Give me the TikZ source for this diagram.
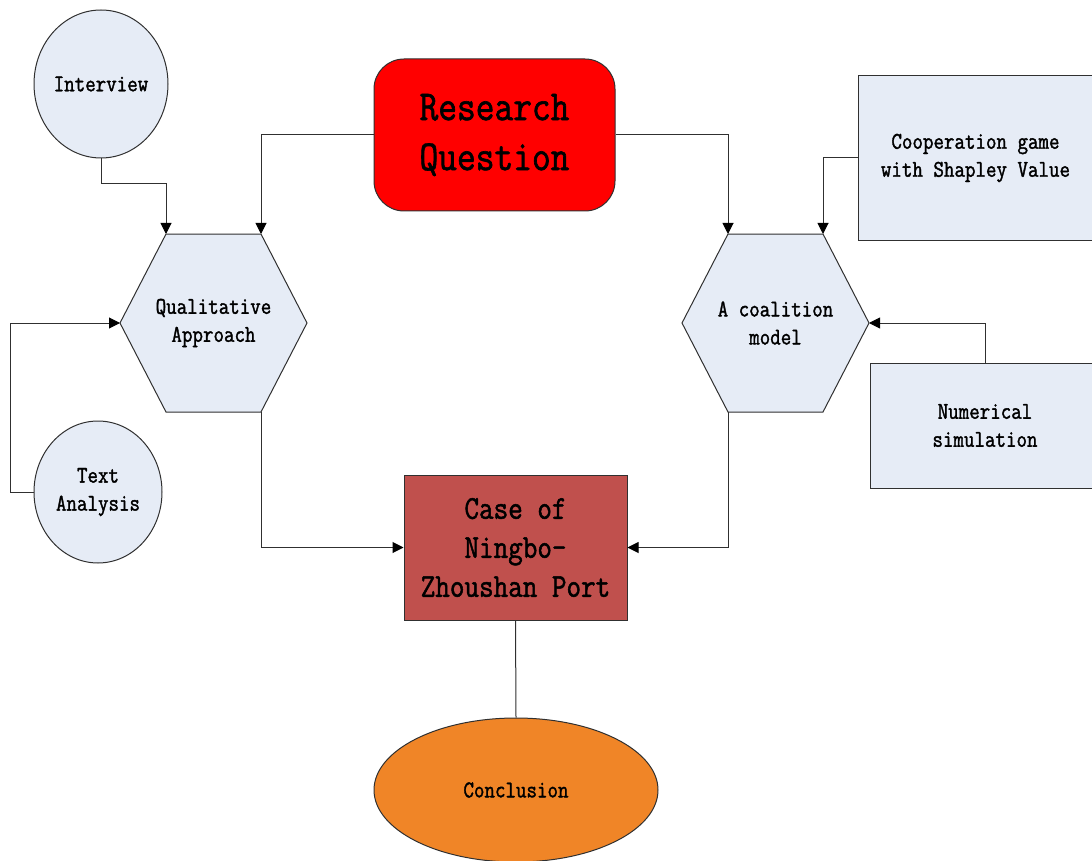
\documentclass[tikz,border=0pt]{standalone}
\usepackage{fontspec}
\setmainfont[FakeStretch=0.85,FakeBold=1.5]{Latin Modern Mono}
\usetikzlibrary{arrows.meta,shapes.geometric,backgrounds}

\definecolor{paleblue}{HTML}{E6ECF6}
\definecolor{brick}{HTML}{C0504D}
\definecolor{tangerine}{HTML}{F08527}
\definecolor{edge}{HTML}{303030}

\tikzset{
  outline/.style={draw=edge, line width=1pt},
  smalltext/.style={font=\fontsize{24}{28}\selectfont, align=center, inner sep=0pt},
  roundshape/.style={ellipse, outline, fill=paleblue, smalltext},
  sidebox/.style={rectangle, outline, fill=paleblue, smalltext},
  hexcore/.style={rectangle, smalltext},
  hexfill/.style={outline, fill=paleblue},
  link/.style={draw=edge, line width=1pt},
  flow/.style={link, -{Triangle[length=11pt,width=11pt,color=black]}},
}

\begin{document}
\begin{tikzpicture}[x=1pt, y=-1pt]
\useasboundingbox (0,0) rectangle (1092,861);

% central question
\node[rectangle, rounded corners=30pt, outline, fill=red,
      minimum width=241pt, minimum height=152pt, align=center, inner sep=0pt,
      font=\fontsize{42.8}{50}\selectfont] (rq) at (494.5,135) {Research\\Question};

% the two approaches: hexagon corners placed around each text core
\node[hexcore] (qa) at (213.5,323) {Qualitative\\Approach};
\node[hexcore] (cm) at (775.5,323) {A coalition\\model};
\foreach \h in {qa,cm}{
  \coordinate (\h-nw) at ([xshift=-47.5pt,yshift=89pt]\h.center);
  \coordinate (\h-ne) at ([xshift=47.5pt,yshift=89pt]\h.center);
  \coordinate (\h-e)  at ([xshift=93.5pt]\h.center);
  \coordinate (\h-se) at ([xshift=47.5pt,yshift=-89pt]\h.center);
  \coordinate (\h-sw) at ([xshift=-47.5pt,yshift=-89pt]\h.center);
  \coordinate (\h-w)  at ([xshift=-93.5pt]\h.center);
}
\begin{scope}[on background layer]
  \foreach \h in {qa,cm}{
    \draw[hexfill] (\h-nw) -- (\h-ne) -- (\h-e) -- (\h-se) -- (\h-sw) -- (\h-w) -- cycle;
  }
\end{scope}

% inputs
\node[roundshape, minimum width=134pt, minimum height=148pt] (iv) at (101,84) {Interview};
\node[roundshape, minimum width=128pt, minimum height=142pt] (ta) at (98,492) {Text\\Analysis};
\node[sidebox, minimum width=235pt, minimum height=164pt] (coop) at (975.5,158) {Cooperation game\\with Shapley Value};
\node[sidebox, minimum width=230pt, minimum height=125pt] (num) at (985,425.5) {Numerical\\simulation};

% case study and conclusion
\node[rectangle, outline, fill=brick, minimum width=223pt, minimum height=145pt,
      align=center, inner sep=0pt, font=\fontsize{33.3}{39}\selectfont]
      (case) at (515.5,547.5) {Case of\\Ningbo-\\Zhoushan Port};
\node[ellipse, outline, fill=tangerine, minimum width=284pt, minimum height=144pt,
      smalltext] (concl) at (516,790) {Conclusion};

% connectors
\draw[flow] (iv.south) -- ++(0,25) -| (qa-nw);
\draw[flow] (rq.west) -| (qa-ne);
\draw[flow] (rq.east) -| (cm-nw);
\draw[flow] (coop.west) -| (cm-ne);
\draw[flow] (ta.west) -- ++(-23,0) |- (qa-w);
\draw[flow] (num.north) |- (cm-e);
\draw[flow] (qa-se) |- (case.west);
\draw[flow] (cm-sw) |- (case.east);
\draw[link] (case.south) -- (concl.north);
\end{tikzpicture}
\end{document}
